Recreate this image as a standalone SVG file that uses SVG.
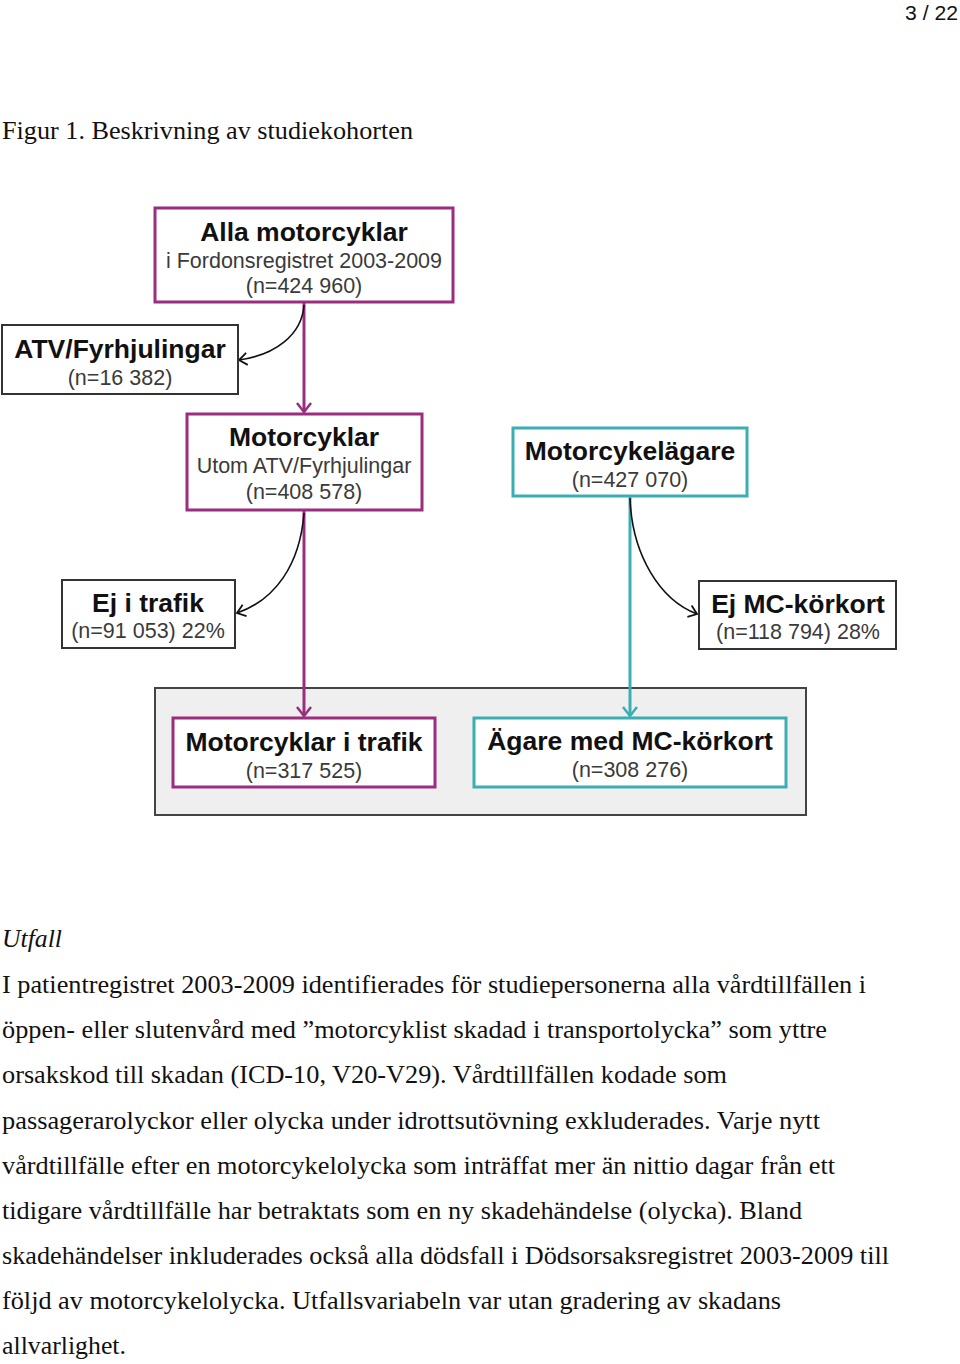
<svg xmlns="http://www.w3.org/2000/svg" width="960" height="1364" viewBox="0 0 960 1364">
<style>
.bg{fill:#fff}
.mag{fill:#fff;stroke:#9b2d7f;stroke-width:3}
.teal{fill:#fff;stroke:#3aaeb3;stroke-width:3}
.blk{fill:#fff;stroke:#333;stroke-width:2}
.cont{fill:#efefef;stroke:#444;stroke-width:2}
.t{font-family:"Liberation Sans",Arial,sans-serif;font-weight:bold;font-size:26.5px;fill:#111;text-anchor:middle}
.s{font-family:"Liberation Sans",Arial,sans-serif;font-size:21.5px;fill:#3a3a3a;text-anchor:middle}
.body{font-family:"Liberation Serif","Times New Roman",serif;font-size:25px;fill:#111}
.cm{fill:none;stroke:#9b2d7f;stroke-width:3}
.ct{fill:none;stroke:#3aaeb3;stroke-width:3}
.cb{fill:none;stroke:#111;stroke-width:1.6}
</style>
<defs>
<marker id="am" markerWidth="14" markerHeight="16" refX="11" refY="8" orient="auto" markerUnits="userSpaceOnUse"><path d="M2,1 L11,8 L2,15" fill="none" stroke="#9b2d7f" stroke-width="2.5"/></marker>
<marker id="at" markerWidth="14" markerHeight="16" refX="11" refY="8" orient="auto" markerUnits="userSpaceOnUse"><path d="M2,1 L11,8 L2,15" fill="none" stroke="#3aaeb3" stroke-width="2.5"/></marker>
<marker id="ab" markerWidth="12" markerHeight="14" refX="10" refY="7" orient="auto" markerUnits="userSpaceOnUse"><path d="M2,1 L10,7 L2,13" fill="none" stroke="#111" stroke-width="1.8"/></marker>
</defs>
<rect class="bg" width="960" height="1364"/>
<text x="958" y="20" font-family="Liberation Sans,Arial,sans-serif" font-size="21" fill="#111" text-anchor="end" textLength="53" lengthAdjust="spacingAndGlyphs">3 / 22</text>
<text class="body" x="2" y="139" textLength="411" lengthAdjust="spacingAndGlyphs">Figur 1. Beskrivning av studiekohorten</text>

<rect id="container" class="cont" x="155" y="688" width="651" height="127"/>

<g id="connectors">
<path class="cm" d="M304,302 V412" marker-end="url(#am)"/>
<path class="cm" d="M304,510 V716" marker-end="url(#am)"/>
<path class="ct" d="M630,496 V716" marker-end="url(#at)"/>
<path class="cb" d="M304,305 C302,335 275,355 239,360" marker-end="url(#ab)"/>
<path class="cb" d="M304,513 C300,565 275,600 237,613" marker-end="url(#ab)"/>
<path class="cb" d="M630,498 C632,555 660,600 697,614" marker-end="url(#ab)"/>
</g>

<g id="n-alla">
<rect class="mag" x="155" y="208" width="298" height="94"/>
<text class="t" x="304" y="241">Alla motorcyklar</text>
<text class="s" x="304" y="268">i Fordonsregistret 2003-2009</text>
<text class="s" x="304" y="293">(n=424 960)</text>
</g>
<g id="n-atv">
<rect class="blk" x="2" y="325" width="236" height="69"/>
<text class="t" x="120" y="358">ATV/Fyrhjulingar</text>
<text class="s" x="120" y="385">(n=16 382)</text>
</g>
<g id="n-mc">
<rect class="mag" x="187" y="414" width="235" height="96"/>
<text class="t" x="304" y="446">Motorcyklar</text>
<text class="s" x="304" y="473">Utom ATV/Fyrhjulingar</text>
<text class="s" x="304" y="499">(n=408 578)</text>
</g>
<g id="n-agare">
<rect class="teal" x="513" y="428" width="234" height="68"/>
<text class="t" x="630" y="460">Motorcykelägare</text>
<text class="s" x="630" y="487">(n=427 070)</text>
</g>
<g id="n-ejtrafik">
<rect class="blk" x="62" y="580" width="173" height="68"/>
<text class="t" x="148" y="612">Ej i trafik</text>
<text class="s" x="148" y="638">(n=91 053) 22%</text>
</g>
<g id="n-ejmc">
<rect class="blk" x="699" y="581" width="197" height="68"/>
<text class="t" x="798" y="613">Ej MC-körkort</text>
<text class="s" x="798" y="639">(n=118 794) 28%</text>
</g>
<g id="n-mctrafik">
<rect class="mag" x="173" y="718" width="262" height="69"/>
<text class="t" x="304" y="751">Motorcyklar i trafik</text>
<text class="s" x="304" y="778">(n=317 525)</text>
</g>
<g id="n-agaremc">
<rect class="teal" x="474" y="718" width="312" height="69"/>
<text class="t" x="630" y="750">Ägare med MC-körkort</text>
<text class="s" x="630" y="777">(n=308 276)</text>
</g>

<text class="body" x="2" y="947" font-style="italic" textLength="60" lengthAdjust="spacingAndGlyphs">Utfall</text>
<text class="body" x="2" y="993" textLength="864" lengthAdjust="spacingAndGlyphs">I patientregistret 2003-2009 identifierades för studiepersonerna alla vårdtillfällen i</text>
<text class="body" x="2" y="1038" textLength="825" lengthAdjust="spacingAndGlyphs">öppen- eller slutenvård med ”motorcyklist skadad i transportolycka” som yttre</text>
<text class="body" x="2" y="1083" textLength="725" lengthAdjust="spacingAndGlyphs">orsakskod till skadan (ICD-10, V20-V29). Vårdtillfällen kodade som</text>
<text class="body" x="2" y="1129" textLength="818" lengthAdjust="spacingAndGlyphs">passagerarolyckor eller olycka under idrottsutövning exkluderades. Varje nytt</text>
<text class="body" x="2" y="1174" textLength="833" lengthAdjust="spacingAndGlyphs">vårdtillfälle efter en motorcykelolycka som inträffat mer än nittio dagar från ett</text>
<text class="body" x="2" y="1219" textLength="800" lengthAdjust="spacingAndGlyphs">tidigare vårdtillfälle har betraktats som en ny skadehändelse (olycka). Bland</text>
<text class="body" x="2" y="1264" textLength="887" lengthAdjust="spacingAndGlyphs">skadehändelser inkluderades också alla dödsfall i Dödsorsaksregistret 2003-2009 till</text>
<text class="body" x="2" y="1309" textLength="779" lengthAdjust="spacingAndGlyphs">följd av motorcykelolycka. Utfallsvariabeln var utan gradering av skadans</text>
<text class="body" x="2" y="1354" textLength="124" lengthAdjust="spacingAndGlyphs">allvarlighet.</text>
</svg>
